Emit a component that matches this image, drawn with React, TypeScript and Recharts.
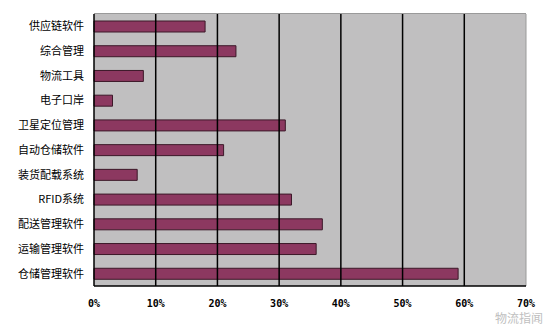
import React from 'react';
import { BarChart, Bar, XAxis, YAxis, CartesianGrid, ReferenceLine } from 'recharts';

const categories = ['供应链软件', '综合管理', '物流工具', '电子口岸', '卫星定位管理', '自动仓储软件', '装货配载系统', 'RFID系统', '配送管理软件', '运输管理软件', '仓储管理软件'];
const shares = [18, 23, 8, 3, 31, 21, 7, 32, 37, 36, 59];
const xTicks = [0, 10, 20, 30, 40, 50, 60, 70];

const data = categories.map((name, i) => ({ name, value: shares[i] }));

const COLORS = {
  bar: '#8c3860',
  barEdge: '#3c1828',
  plot: '#c0bfc0',
  grid: '#000000',
  border: '#9a9a9a'
};

export default function App() {
  return (
    <div style={{ position: 'absolute', left: 0, top: 0, width: 551, height: 327, background: '#ffffff' }}>
      <BarChart
        width={551}
        height={327}
        data={data}
        layout="vertical"
        margin={{ top: 14, right: 25, bottom: 11, left: 0 }}
        barSize={11}
      >
        <CartesianGrid fill={COLORS.plot} stroke="none" horizontal={false} vertical={false} />
        {xTicks.slice(1, -1).map((t) => (
          <ReferenceLine key={t} x={t} stroke={COLORS.grid} strokeWidth={1.5} />
        ))}
        <ReferenceLine x={70} stroke={COLORS.border} strokeWidth={1} />
        <XAxis
          type="number"
          domain={[0, 70]}
          ticks={xTicks}
          tickFormatter={(v: number) => `${v}%`}
          axisLine={{ stroke: '#000', strokeWidth: 1.5 }}
          tickLine={false}
          tickSize={0}
          tickMargin={14}
          height={30}
          tick={{ fontSize: 10, fill: '#000', fontFamily: 'DejaVu Sans Mono', fontWeight: 'bold' }}
        />
        <YAxis
          type="category"
          dataKey="name"
          width={94}
          axisLine={{ stroke: '#000', strokeWidth: 1.5 }}
          tickLine={false}
          tickSize={0}
          tickMargin={10}
          tick={{ fontSize: 11, fill: '#000', fontFamily: 'Noto Sans CJK SC' }}
        />
        <Bar dataKey="value" fill={COLORS.bar} stroke={COLORS.barEdge} strokeWidth={1} isAnimationActive={false} />
      </BarChart>
      {/* plot frame top edge, light gray like the source */}
      <div style={{ position: 'absolute', left: 94, top: 13, width: 432, height: 0, borderTop: `1px solid ${COLORS.border}` }} />
      <div
        style={{
          position: 'absolute',
          right: 8,
          top: 311,
          fontSize: 12,
          lineHeight: '14px',
          color: '#c0c0c0',
          fontFamily: 'Noto Sans CJK SC',
          whiteSpace: 'nowrap'
        }}
      >
        物流指闻
      </div>
    </div>
  );
}
